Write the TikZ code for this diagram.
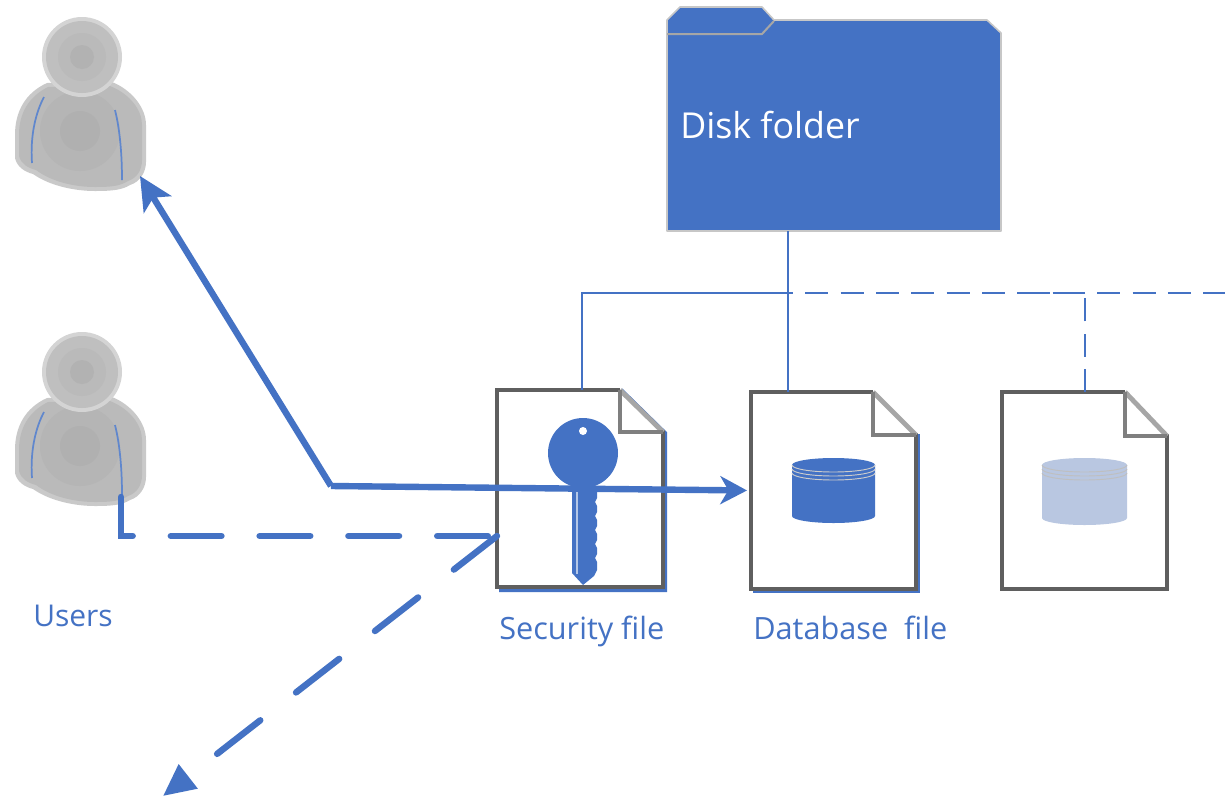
\documentclass[tikz,border=0pt]{standalone}
\usepackage{fontspec}
\setmainfont{Open Sans}
\usetikzlibrary{arrows.meta,fit,calc}
\definecolor{acc}{HTML}{4472C4}
\definecolor{lacc}{HTML}{B9C7E1}
\definecolor{fr}{HTML}{5F5F5F}
\definecolor{frl}{HTML}{A6A6A6}
\tikzset{
  thinlink/.style={draw=acc,line width=1.7pt},
  thindash/.style={thinlink,dash pattern=on 17.3pt off 9.2pt},
  boldlink/.style={draw=acc,line width=4.8pt},
  bolddash/.style={draw=acc,line width=4.8pt,line cap=round},
  label/.style={text=acc,inner sep=0pt,anchor=base west,font=\fontsize{23pt}{26pt}\selectfont},
  marker/.style={inner sep=0pt,outer sep=0pt},
}
% user icon: #1 name, #2 vertical offset
\newcommand{\usericon}[2]{%
  \begin{scope}[yshift=#2*-0.75pt]
    \path[fill=black!21] (47,83) .. controls (25,93) and (15,112) .. (15,135) -- (15,158)
      .. controls (17,167) and (25,172) .. (33,174)
      .. controls (50,186) and (75,191) .. (95,191)
      .. controls (112,191) and (122,190) .. (130,185)
      .. controls (140,182) and (146,172) .. (146,162) -- (146,125)
      .. controls (146,108) and (132,90) .. (112,82) -- cycle;
    \path[fill=black!27] (48,87) .. controls (28,97) and (19,114) .. (19,135) -- (19,156)
      .. controls (21,164) and (28,168) .. (36,170)
      .. controls (52,182) and (75,187) .. (95,187)
      .. controls (112,187) and (120,186) .. (128,181)
      .. controls (137,178) and (142,170) .. (142,160) -- (142,125)
      .. controls (142,110) and (130,94) .. (110,86) -- cycle;
    \fill[black!29] (80,131) circle (40);
    \fill[black!31] (80,131) circle (20);
    \draw[acc!85!white,line width=1.3pt] (44,97) .. controls (36,112) and (30,135) .. (32,163);
    \draw[acc!85!white,line width=1.3pt] (115,110) .. controls (120,130) and (122,155) .. (122,180);
    \fill[black!17] (82,57) circle (40);
    \fill[black!25] (82,57) circle (36);
    \fill[black!27] (82,57) circle (24);
    \fill[black!30] (82,57) circle (12);
    \node[marker,fit={(15,18)(146,191)}] (#1) {};
  \end{scope}}
% document outline: name, left, top, fold x, fold y, right, bottom
\newcommand{\docfile}[7]{%
  \fill[white] (#2,#3) -- (#4,#3) -- (#6,#5) -- (#6,#7) -- (#2,#7) -- cycle;
  \draw[fr,line width=3.2pt,line join=miter] (#4,#5) -- (#6,#5) -- (#6,#7) -- (#2,#7) -- (#2,#3) -- (#4,#3);
  \draw[frl,line width=3.6pt] (#4,#3) -- (#6,#5);
  \draw[fr!80!white,line width=3.2pt] (#4,#3) -- (#4,#5) -- (#6,#5);
  \node[marker,fit={(#2,#3)(#6,#7)}] (#1) {};}
% cylinder: name, fill, left, right, top centre, bottom centre, ring colour
\newcommand{\cyl}[7]{%
  \fill[#2] (#3,#5) arc[start angle=180,end angle=360,x radius=(#4-#3)/2,y radius=7]
    -- (#4,#6) arc[start angle=0,end angle=180,x radius=(#4-#3)/2,y radius=7] -- cycle;
  \foreach \dy in {0,4,8}{
    \draw[#7,line width=0.7pt] (#3,#5+\dy) arc[start angle=180,end angle=0,x radius=(#4-#3)/2,y radius=7];}
  \node[marker,fit={(#3,#5-7)(#4,#6+7)}] (#1) {};}
\begin{document}
\begin{tikzpicture}[x=0.75pt,y=-0.75pt]
\useasboundingbox (0,0) rectangle (1225,797);
\fill[white] (0,0) rectangle (1225,797);

% folder
\path[fill=acc,draw=black!22,line width=1.2pt,line join=round]
  (667,20) -- (680,7) -- (762,7) -- (774,20) -- (987,20) -- (1001,33) -- (1001,231) -- (667,231) -- cycle;
\draw[black!35,line width=1.5pt] (667,34) -- (762,34) -- (774,21);
\node[marker,fit={(667,7)(1001,231)}] (folder) {};
\node[label,text=white,font=\fontsize{26.8pt}{30pt}\selectfont] (foldertext) at (680,138) {Disk folder};

% users
\usericon{userA}{0}
\usericon{userB}{315}
\node[label,font=\fontsize{22.5pt}{26pt}\selectfont] (userslabel) at (33,626) {Users};

% files
\draw[acc,line width=3pt] (499,590) -- (665,590) -- (665,433) -- (621,390);
\docfile{secfile}{497}{390}{620}{432}{663}{587}
\draw[acc,line width=2.4pt] (753,591) -- (918,591) -- (918,434);
\docfile{dbfile}{751}{392}{873}{435}{916}{589}
\docfile{dbcopy}{1002}{392}{1125}{436}{1167}{589}

% key
\fill[acc] (583,453) circle (35);
\fill[acc] (572,480) -- (572,573) -- (583,585) -- (594,576) -- (597,570) -- (597,562) -- (595,558) -- (597,554) -- (597,548) -- (595,544) -- (597,540) -- (597,534) -- (595,530) -- (597,526) -- (597,520) -- (595,516) -- (597,512) -- (597,506) -- (595,502) -- (597,498) -- (597,492) -- (595,488) -- (595,480) -- cycle;
\fill[white] (583,431) circle (4);
\draw[acc!40!white,line width=1.3pt] (577,492) -- (577,574);
\node[marker,fit={(548,418)(618,585)}] (key) {};

% cylinders
\cyl{dbcyl}{acc}{792}{875}{465}{516}{black!20}
\cyl{copycyl}{lacc}{1042}{1127}{465}{518}{black!25}

% labels
\node[label] (seclabel) at (499,639) {Security file};
\node[label] (dblabel) at (753,639) {Database\ \ file};

% ports
\coordinate (secport) at (582,390);
\coordinate (dbport) at (788,392);
\coordinate (copyport) at (1085,392);
\coordinate (junction) at (788,293);
\coordinate (junctionR) at (1085,293);
\coordinate (overlap) at (1027,293);
\coordinate (edgeR) at (1225,293);
\coordinate (bend) at (331,486);
\coordinate (userAport) at (140,176);
\coordinate (userBport) at (121,497);
\coordinate (corner) at (121,536);
\coordinate (secwest) at (497,536);
\coordinate (outward) at (163,796);

% thin tree
\draw[thinlink] (dbport |- folder.south) -- (dbport);
\draw[thinlink] (secport) -- (secport |- junction) -- (junction);
\draw[thindash,dash phase=13.5pt] (junction) -- (junctionR);
\draw[thindash] (junctionR) -- (overlap);
\draw[thindash,dash phase=17.3pt] (junctionR) -- (edgeR);
\draw[thindash] (copyport) -- (junctionR);

% bold arrows
\draw[boldlink,-{Stealth[length=25pt,width=24pt,inset=6pt]}] (bend) -- (userAport);
\draw[boldlink,-{Stealth[length=20pt,width=21pt,inset=6pt]},shorten >=3pt] (bend) -- (dbfile.west);
\draw[bolddash,dash pattern=on 38pt off 28.6pt] (userBport) -- (corner) -- (secwest);
\draw[bolddash,dash pattern=on 41pt off 34pt,-{Triangle[length=24pt,width=22pt]}] (secwest) -- (outward);
\end{tikzpicture}
\end{document}
